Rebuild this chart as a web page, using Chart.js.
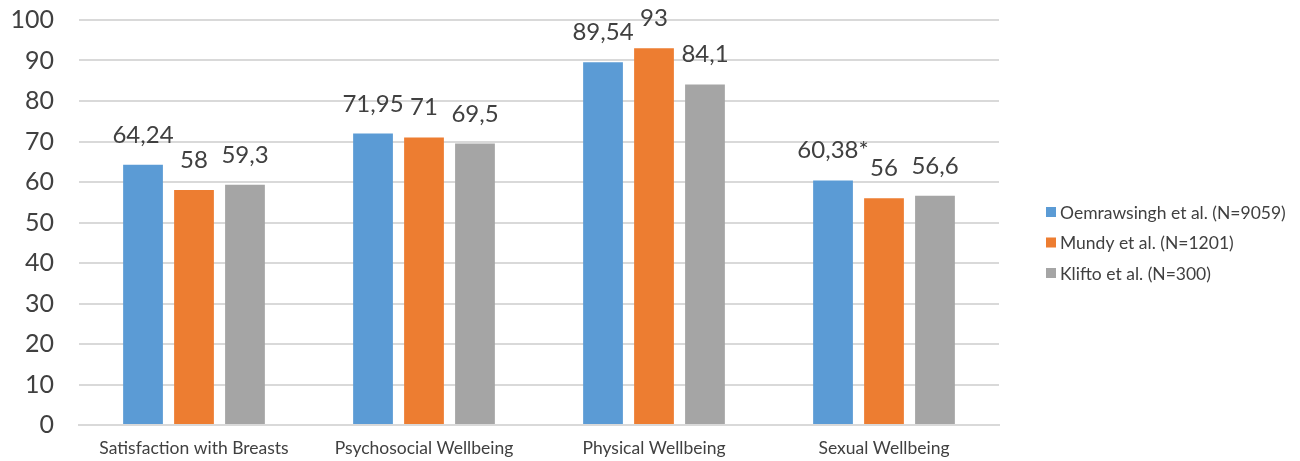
<!DOCTYPE html>
<html>
<head>
<meta charset="utf-8">
<script src="https://cdn.jsdelivr.net/npm/chart.js@4"></script>
<style>
  html, body { margin: 0; padding: 0; background: #ffffff; }
  #wrap { width: 1300px; height: 461px; }
</style>
</head>
<body>
<div id="wrap"><canvas id="c" width="1300" height="461"></canvas></div>
<script>
const categories = ["Satisfaction with Breasts", "Psychosocial Wellbeing", "Physical Wellbeing", "Sexual Wellbeing"];
const seriesNames = ["Oemrawsingh et al. (N=9059)", "Mundy et al. (N=1201)", "Klifto et al. (N=300)"];
const oemrawsingh = [64.24, 71.95, 89.54, 60.38];
const mundy = [58, 71, 93, 56];
const klifto = [59.3, 69.5, 84.1, 56.6];
const oemrawsinghLabels = ["64,24", "71,95", "89,54", "60,38*"];
const mundyLabels = ["58", "71", "93", "56"];
const kliftoLabels = ["59,3", "69,5", "84,1", "56,6"];
const yTicks = [0, 10, 20, 30, 40, 50, 60, 70, 80, 90, 100];

const colors = ["#5B9BD5", "#ED7D31", "#A5A5A5"];
const FONT = "Lato, 'Open Sans', sans-serif";
const TEXT = "#404040";

const valueLabels = [oemrawsinghLabels, mundyLabels, kliftoLabels];

const dataLabelPlugin = {
  id: 'dataLabels',
  afterDatasetsDraw(chart) {
    const ctx = chart.ctx;
    ctx.save();
    ctx.font = "24px " + FONT;
    ctx.fillStyle = TEXT;
    ctx.textAlign = 'center';
    ctx.textBaseline = 'alphabetic';
    chart.data.datasets.forEach((ds, di) => {
      const meta = chart.getDatasetMeta(di);
      meta.data.forEach((el, i) => {
        ctx.fillText(valueLabels[di][i], el.x, el.y - 22);
      });
    });
    ctx.restore();
  }
};

const legendPlugin = {
  id: 'customLegend',
  afterDraw(chart) {
    const ctx = chart.ctx;
    const a = chart.chartArea;
    ctx.save();
    ctx.font = "17.5px " + FONT;
    ctx.textBaseline = 'middle';
    ctx.textAlign = 'left';
    const cy = (a.top + a.bottom) / 2 + 20;
    chart.data.datasets.forEach((ds, i) => {
      const y = cy + (i - 1) * 30.5;
      const x = a.right + 47;
      ctx.fillStyle = ds.backgroundColor;
      ctx.fillRect(x, y - 5, 10, 10);
      ctx.fillStyle = TEXT;
      ctx.fillText(ds.label, x + 14, y + 1);
    });
    ctx.restore();
  }
};

new Chart(document.getElementById('c'), {
  type: 'bar',
  data: {
    labels: categories,
    datasets: [
      { label: seriesNames[0], data: oemrawsingh, backgroundColor: colors[0] },
      { label: seriesNames[1], data: mundy, backgroundColor: colors[1] },
      { label: seriesNames[2], data: klifto, backgroundColor: colors[2] }
    ]
  },
  options: {
    responsive: false,
    animation: false,
    devicePixelRatio: 1,
    datasets: { bar: { categoryPercentage: 0.665, barPercentage: 0.78 } },
    layout: { padding: { left: 0, right: 301, top: 20, bottom: 0 } },
    plugins: {
      legend: { display: false },
      tooltip: { enabled: false },
      title: { display: false }
    },
    scales: {
      x: {
        grid: { display: false },
        border: { display: true, color: "#d9d9d9", width: 2 },
        ticks: { color: TEXT, font: { family: FONT, size: 17.5 }, padding: 5 },
        afterFit(scale) { scale.height = 36; scale.paddingLeft = 0; scale.paddingRight = 0; }
      },
      y: {
        min: 0, max: 100,
        afterBuildTicks(scale) { scale.ticks = yTicks.map(v => ({ value: v })); },
        grid: { color: "#d9d9d9", lineWidth: 2, drawTicks: false },
        border: { display: false },
        ticks: { color: TEXT, font: { family: FONT, size: 25 }, padding: 25 },
        afterFit(scale) { scale.width = 79; scale.paddingTop = 0; scale.paddingBottom = 0; }
      }
    }
  },
  plugins: [dataLabelPlugin, legendPlugin]
});
</script>
</body>
</html>
